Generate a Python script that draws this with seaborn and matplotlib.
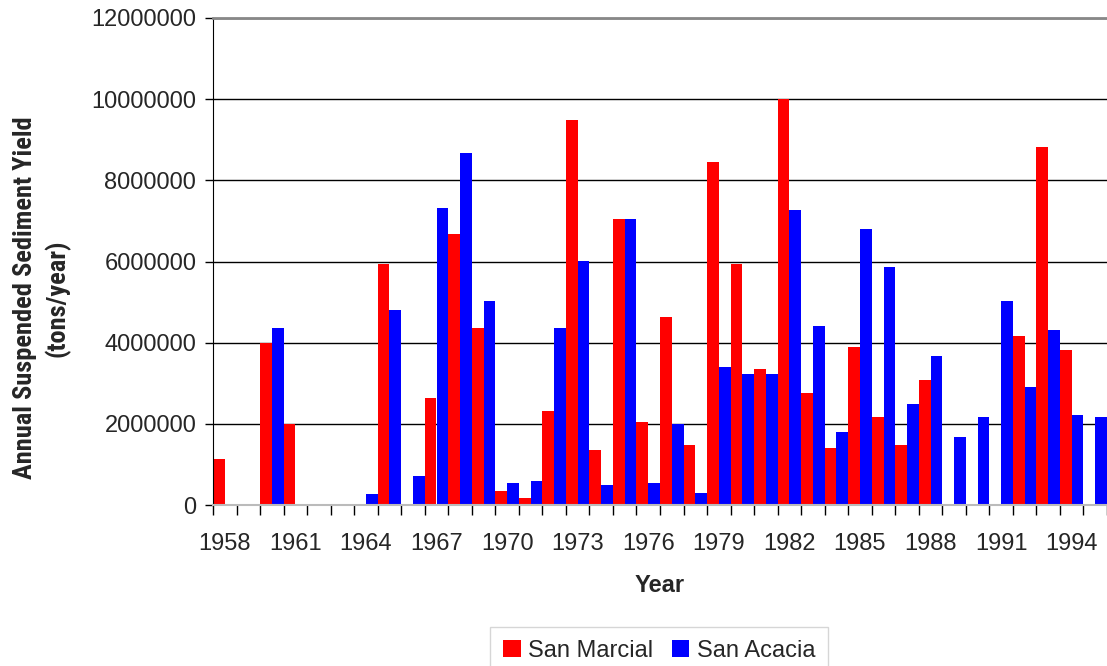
import matplotlib
matplotlib.use("Agg")
import matplotlib.pyplot as plt
from matplotlib import font_manager
import pandas as pd
import seaborn as sns

# data (tons/year)
years = list(range(1958, 1996))
san_marcial = [1140000, 0, 4000000, 2000000, 0, 0, 0, 5940000, 0, 2640000,
               6680000, 4370000, 350000, 180000, 2320000, 9490000, 1360000, 7050000, 2050000, 4640000,
               1490000, 8460000, 5940000, 3360000, 10000000, 2770000, 1410000, 3900000, 2180000, 1490000,
               3090000, 0, 0, 0, 4170000, 8830000, 3830000, 0]
san_acacia = [0, 0, 4370000, 0, 0, 0, 280000, 4810000, 720000, 7320000,
              8680000, 5030000, 550000, 600000, 4370000, 6010000, 500000, 7050000, 550000, 2000000,
              300000, 3410000, 3230000, 3230000, 7270000, 4420000, 1810000, 6810000, 5870000, 2500000,
              3680000, 1680000, 2180000, 5030000, 2910000, 4320000, 2220000, 2180000]
series_names = ["San Marcial", "San Acacia"]
series_colors = ["#ff0000", "#0000ff"]
yticks = list(range(0, 12000001, 2000000))

df = pd.DataFrame({"Year": years * 2,
                   "Yield": san_marcial + san_acacia,
                   "Station": [series_names[0]] * len(years) + [series_names[1]] * len(years)})

sns.set_style("white")
plt.rcParams["font.family"] = ["Liberation Sans", "DejaVu Sans"]

# the y label in the original is a narrow bold face; use one if it is there
installed = {f.name for f in font_manager.fontManager.ttflist}
ylab_font, ylab_size = "Liberation Sans", 15.5
for cand in ["Liberation Sans Narrow", "Roboto Condensed", "Open Sans Condensed"]:
    if cand in installed:
        ylab_font, ylab_size = cand, 19
        break

fig = plt.figure(figsize=(11.07, 6.66), dpi=100)
ax = fig.add_axes([213 / 1107, 1 - 505 / 666, 894 / 1107, 487 / 666])

sns.barplot(data=df, x="Year", y="Yield", hue="Station", hue_order=series_names,
            palette=series_colors, width=1.0, gap=0, saturation=1, ax=ax,
            linewidth=0, edgecolor="none", legend=True)

ax.set_ylim(0, 12000000)
ax.set_xlim(-0.5, len(years) - 0.5)
ax.set_yticks(yticks)
ax.set_yticklabels([str(v) for v in yticks], fontsize=17)
ax.yaxis.grid(True, color="black", lw=1)
ax.set_axisbelow(True)

# labels every third year at category centres, tick marks on category edges
lab_pos = list(range(0, len(years), 3))
ax.set_xticks(lab_pos)
ax.set_xticklabels([str(years[i]) for i in lab_pos], fontsize=17)
ax.tick_params(axis="x", which="major", bottom=True, length=0, pad=20)
ax.set_xticks([i - 0.5 for i in range(len(years) + 1)], minor=True)
ax.tick_params(axis="x", which="minor", bottom=True, length=7, width=1, color="black", direction="out")
ax.tick_params(axis="y", left=True, length=6, width=1, color="black", direction="out", pad=6)

ax.spines["right"].set_visible(False)
ax.spines["left"].set_color("black")
ax.spines["top"].set_color("#888888")
ax.spines["top"].set_linewidth(2)
ax.spines["bottom"].set_color("#bbbbbb")
ax.spines["bottom"].set_linewidth(1.5)

ax.set_xlabel("Year", fontsize=17, fontweight="bold", labelpad=14)
ax.set_ylabel("Annual Suspended Sediment Yield\n(tons/year)", fontsize=ylab_size,
              fontweight="bold", family=ylab_font, linespacing=1.35, va="center")
ax.yaxis.set_label_coords((42 - 213) / 894, (505 - 298) / 487)

ax.legend_.remove()
handles, labels = ax.get_legend_handles_labels()
leg = fig.legend(handles, labels, loc="upper center", bbox_to_anchor=(659 / 1107, 1 - 627 / 666),
                 ncol=2, fontsize=17, frameon=True, fancybox=False, edgecolor="#cccccc",
                 handlelength=0.75, handleheight=0.75, handletextpad=0.3, columnspacing=0.8,
                 borderpad=0.55, borderaxespad=0)
leg.get_frame().set_linewidth(1)

fig.savefig("out.png", dpi=100)
